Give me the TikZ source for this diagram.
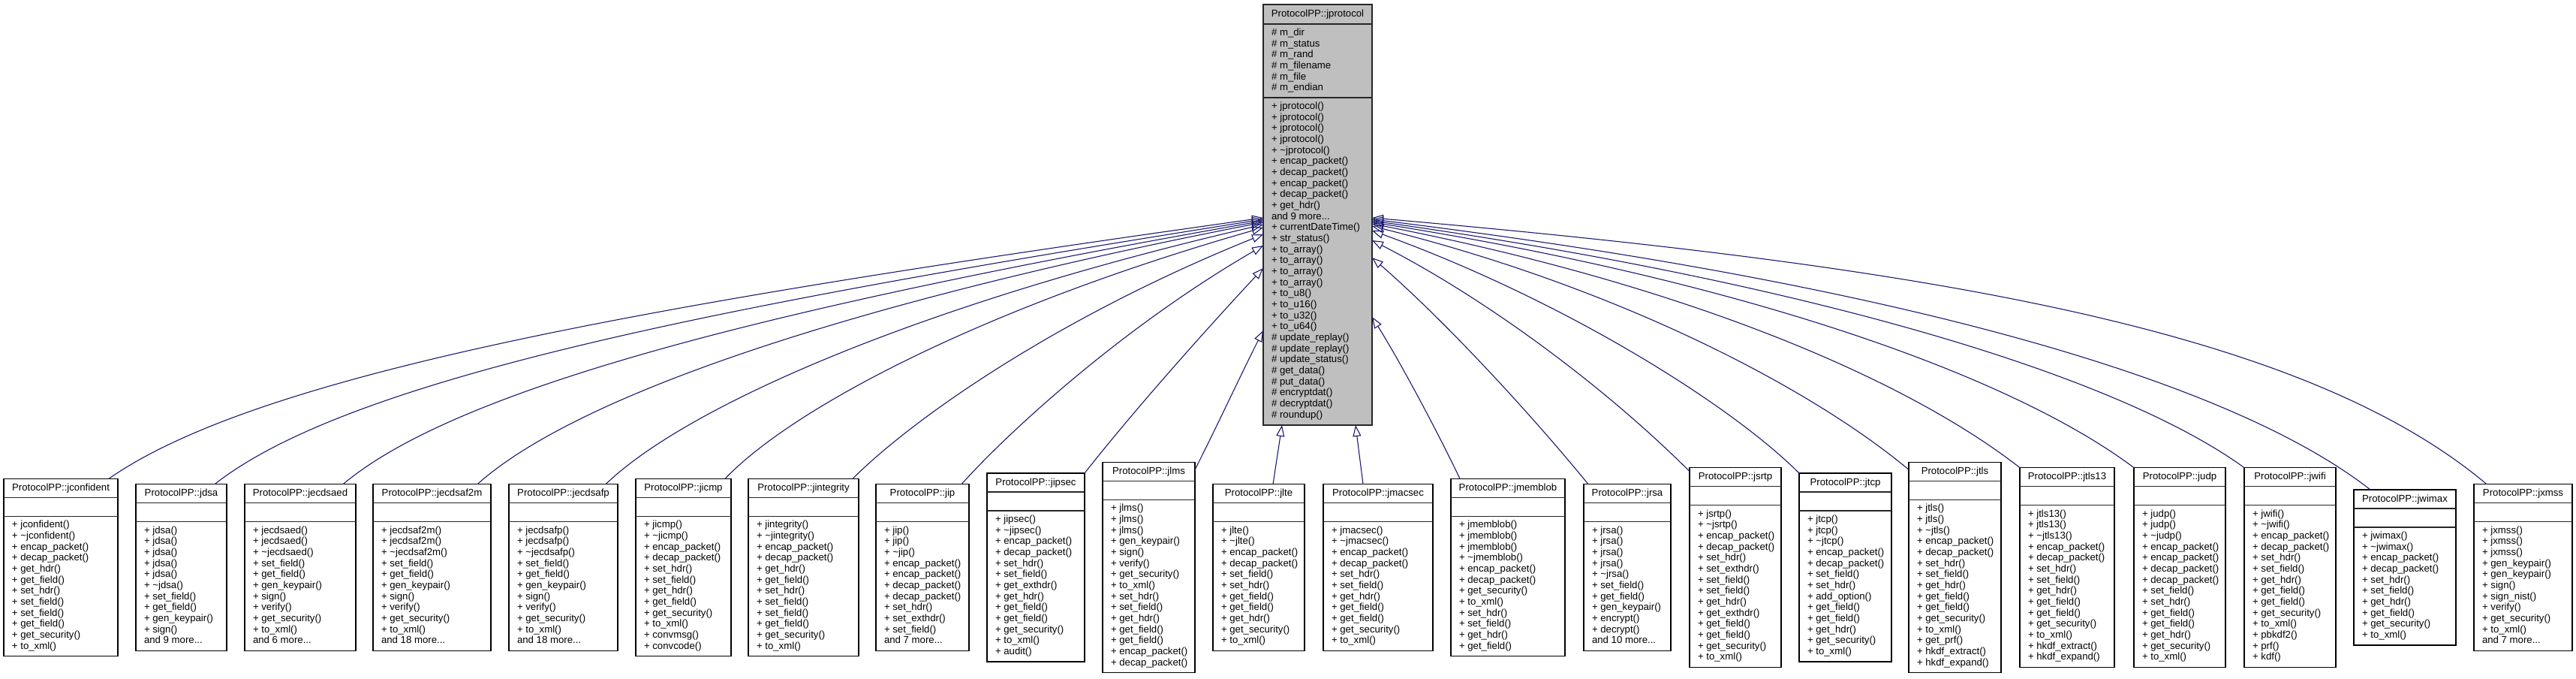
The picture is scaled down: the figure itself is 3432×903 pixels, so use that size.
\documentclass[tikz,border=0pt]{standalone}
\usepackage{fontspec}
\setmainfont{Liberation Sans}
\usetikzlibrary{arrows.meta,calc}
\definecolor{edgeblue}{HTML}{191970}
\definecolor{protogray}{HTML}{BFBFBF}
\newcommand{\tld}{\textasciitilde}
\newcommand{\mdots}{...}
\tikzset{
  childbox/.style={draw=black, line width=1.2pt, fill=white, inner sep=0pt, outer sep=0pt},
  protobox/.style={draw=black!85, line width=1.5pt, fill=protogray, inner sep=0pt, outer sep=0pt},
  sepline/.style={draw=black!85, line width=1.4pt},
  txt/.style={inner sep=0pt, outer sep=0pt, text=black, font=\fontsize{13.2pt}{14.67pt}\selectfont},
  inh/.style={draw=edgeblue, line width=1.1pt, -{Triangle[open,length=15pt,width=11pt]}}
}
\newcommand{\umlcls}[5]{%
  \pgfmathsetmacro{\boxh}{60.3+#4*14.67}%
  \node[childbox, minimum width=#3pt, minimum height=\boxh pt, anchor=west] (#1) at (#2,755.5) {};
  \draw[sepline] ($(#1.north west)+(0,25)$) -- ($(#1.north east)+(0,25)$);
  \draw[sepline] ($(#1.north west)+(0,50)$) -- ($(#1.north east)+(0,50)$);
  \node[txt, anchor=base] (#1-title) at ($(#1.north)+(0,16)$) {ProtocolPP::#1};
  \foreach \mtxt [count=\k] in {#5} {
    \node[txt, anchor=base west] (#1-m\k) at ($(#1.north west)+(11,{65.5+(\k-1)*14.67})$) {\mtxt};
  }
}
\newcommand{\inhedge}[4]{\draw[inh] #1 .. controls +#3 and +#4 .. #2;}
\begin{document}
\begin{tikzpicture}[x=1pt,y=-1pt]
\useasboundingbox (0,0) rectangle (3432,903);

% base class
\node[protobox, minimum width=145pt, minimum height=560pt, anchor=north west] (jprotocol) at (1683,6) {};
\draw[sepline] ($(jprotocol.north west)+(0,26)$) -- ($(jprotocol.north east)+(0,26)$);
\draw[sepline] ($(jprotocol.north west)+(0,124)$) -- ($(jprotocol.north east)+(0,124)$);
\node[txt, anchor=base] (jprotocol-title) at ($(jprotocol.north)+(0,16)$) {ProtocolPP::jprotocol};
\foreach \mtxt [count=\k] in {\# m\_dir, \# m\_status, \# m\_rand, \# m\_filename, \# m\_file, \# m\_endian} {
  \node[txt, anchor=base west] (jprotocol-a\k) at ($(jprotocol.north west)+(11,{41.5+(\k-1)*14.67})$) {\mtxt};
}
\foreach \mtxt [count=\k] in {+ jprotocol(), + jprotocol(), + jprotocol(), + jprotocol(), + \tld jprotocol(),
  + encap\_packet(), + decap\_packet(), + encap\_packet(), + decap\_packet(), + get\_hdr(), and 9 more\mdots,
  + currentDateTime(), + str\_status(), + to\_array(), + to\_array(), + to\_array(), + to\_array(),
  + to\_u8(), + to\_u16(), + to\_u32(), + to\_u64(), \# update\_replay(), \# update\_replay(),
  \# update\_status(), \# get\_data(), \# put\_data(), \# encryptdat(), \# decryptdat(), \# roundup()} {
  \node[txt, anchor=base west] (jprotocol-m\k) at ($(jprotocol.north west)+(11,{139.5+(\k-1)*14.67})$) {\mtxt};
}

% derived classes
\umlcls{jconfident}{5}{152}{12}{+ jconfident(), + \tld jconfident(), + encap\_packet(), + decap\_packet(), + get\_hdr(), + get\_field(), + set\_hdr(), + set\_field(), + set\_field(), + get\_field(), + get\_security(), + to\_xml()}
\umlcls{jdsa}{181}{121}{11}{+ jdsa(), + jdsa(), + jdsa(), + jdsa(), + jdsa(), + \tld jdsa(), + set\_field(), + get\_field(), + gen\_keypair(), + sign(), and 9 more\mdots}
\umlcls{jecdsaed}{326}{148}{11}{+ jecdsaed(), + jecdsaed(), + \tld jecdsaed(), + set\_field(), + get\_field(), + gen\_keypair(), + sign(), + verify(), + get\_security(), + to\_xml(), and 6 more\mdots}
\umlcls{jecdsaf2m}{497}{157}{11}{+ jecdsaf2m(), + jecdsaf2m(), + \tld jecdsaf2m(), + set\_field(), + get\_field(), + gen\_keypair(), + sign(), + verify(), + get\_security(), + to\_xml(), and 18 more\mdots}
\umlcls{jecdsafp}{678}{145}{11}{+ jecdsafp(), + jecdsafp(), + \tld jecdsafp(), + set\_field(), + get\_field(), + gen\_keypair(), + sign(), + verify(), + get\_security(), + to\_xml(), and 18 more\mdots}
\umlcls{jicmp}{847}{127}{12}{+ jicmp(), + \tld jicmp(), + encap\_packet(), + decap\_packet(), + set\_hdr(), + set\_field(), + get\_hdr(), + get\_field(), + get\_security(), + to\_xml(), + convmsg(), + convcode()}
\umlcls{jintegrity}{997}{147}{12}{+ jintegrity(), + \tld jintegrity(), + encap\_packet(), + decap\_packet(), + get\_hdr(), + get\_field(), + set\_hdr(), + set\_field(), + set\_field(), + get\_field(), + get\_security(), + to\_xml()}
\umlcls{jip}{1167}{124}{11}{+ jip(), + jip(), + \tld jip(), + encap\_packet(), + encap\_packet(), + decap\_packet(), + decap\_packet(), + set\_hdr(), + set\_exthdr(), + set\_field(), and 7 more\mdots}
\umlcls{jipsec}{1315}{130}{13}{+ jipsec(), + \tld jipsec(), + encap\_packet(), + decap\_packet(), + set\_hdr(), + set\_field(), + get\_exthdr(), + get\_hdr(), + get\_field(), + get\_field(), + get\_security(), + to\_xml(), + audit()}
\umlcls{jlms}{1469}{123}{15}{+ jlms(), + jlms(), + jlms(), + gen\_keypair(), + sign(), + verify(), + get\_security(), + to\_xml(), + set\_hdr(), + set\_field(), + get\_hdr(), + get\_field(), + get\_field(), + encap\_packet(), + decap\_packet()}
\umlcls{jlte}{1616}{122}{11}{+ jlte(), + \tld jlte(), + encap\_packet(), + decap\_packet(), + set\_field(), + set\_hdr(), + get\_field(), + get\_field(), + get\_hdr(), + get\_security(), + to\_xml()}
\umlcls{jmacsec}{1763}{146}{11}{+ jmacsec(), + \tld jmacsec(), + encap\_packet(), + decap\_packet(), + set\_hdr(), + set\_field(), + get\_hdr(), + get\_field(), + get\_field(), + get\_security(), + to\_xml()}
\umlcls{jmemblob}{1933}{152}{12}{+ jmemblob(), + jmemblob(), + jmemblob(), + \tld jmemblob(), + encap\_packet(), + decap\_packet(), + get\_security(), + to\_xml(), + set\_hdr(), + set\_field(), + get\_hdr(), + get\_field()}
\umlcls{jrsa}{2110}{116}{11}{+ jrsa(), + jrsa(), + jrsa(), + jrsa(), + \tld jrsa(), + set\_field(), + get\_field(), + gen\_keypair(), + encrypt(), + decrypt(), and 10 more\mdots}
\umlcls{jsrtp}{2251}{122}{14}{+ jsrtp(), + \tld jsrtp(), + encap\_packet(), + decap\_packet(), + set\_hdr(), + set\_exthdr(), + set\_field(), + set\_field(), + get\_hdr(), + get\_exthdr(), + get\_field(), + get\_field(), + get\_security(), + to\_xml()}
\umlcls{jtcp}{2397}{123}{13}{+ jtcp(), + jtcp(), + \tld jtcp(), + encap\_packet(), + decap\_packet(), + set\_field(), + set\_hdr(), + add\_option(), + get\_field(), + get\_field(), + get\_hdr(), + get\_security(), + to\_xml()}
\umlcls{jtls}{2543}{123}{15}{+ jtls(), + jtls(), + \tld jtls(), + encap\_packet(), + decap\_packet(), + set\_hdr(), + set\_field(), + get\_hdr(), + get\_field(), + get\_field(), + get\_security(), + to\_xml(), + get\_prf(), + hkdf\_extract(), + hkdf\_expand()}
\umlcls{jtls13}{2691}{126}{14}{+ jtls13(), + jtls13(), + \tld jtls13(), + encap\_packet(), + decap\_packet(), + set\_hdr(), + set\_field(), + get\_hdr(), + get\_field(), + get\_field(), + get\_security(), + to\_xml(), + hkdf\_extract(), + hkdf\_expand()}
\umlcls{judp}{2843}{122}{14}{+ judp(), + judp(), + \tld judp(), + encap\_packet(), + encap\_packet(), + decap\_packet(), + decap\_packet(), + set\_field(), + set\_hdr(), + get\_field(), + get\_field(), + get\_hdr(), + get\_security(), + to\_xml()}
\umlcls{jwifi}{2990}{122}{14}{+ jwifi(), + \tld jwifi(), + encap\_packet(), + decap\_packet(), + set\_hdr(), + set\_field(), + get\_hdr(), + get\_field(), + get\_field(), + get\_security(), + to\_xml(), + pbkdf2(), + prf(), + kdf()}
\umlcls{jwimax}{3136}{136}{10}{+ jwimax(), + \tld jwimax(), + encap\_packet(), + decap\_packet(), + set\_hdr(), + set\_field(), + get\_hdr(), + get\_field(), + get\_security(), + to\_xml()}
\umlcls{jxmss}{3296}{131}{11}{+ jxmss(), + jxmss(), + jxmss(), + gen\_keypair(), + gen\_keypair(), + sign(), + sign\_nist(), + verify(), + get\_security(), + to\_xml(), and 7 more\mdots}

% inheritance edges, left side
\inhedge{($(jconfident.north east)+(-12,0)$)}{($(jprotocol.north west)+(0,284)$)}{(205,-143)}{(-792,111)}
\inhedge{($(jdsa.north east)+(-16,0)$)}{($(jprotocol.north west)+(0,286)$)}{(181,-142)}{(-721,114)}
\inhedge{($(jecdsaed.north east)+(-17,0)$)}{($(jprotocol.north west)+(0,288)$)}{(157,-132)}{(-630,111)}
\inhedge{($(jecdsaf2m.north east)+(-18,0)$)}{($(jprotocol.north west)+(0,290)$)}{(134,-120)}{(-540,105)}
\inhedge{($(jecdsafp.north east)+(-16,0)$)}{($(jprotocol.north west)+(0,293)$)}{(108,-104)}{(-458,106)}
\inhedge{($(jicmp.north east)+(-8,0)$)}{($(jprotocol.north west)+(0,297)$)}{(90,-94)}{(-375,107)}
\inhedge{($(jintegrity.north east)+(-8,0)$)}{($(jprotocol.north west)+(0,306)$)}{(78,-78)}{(-278,112)}
\inhedge{($(jip.north east)+(-10,0)$)}{($(jprotocol.north west)+(0,321)$)}{(60,-67)}{(-190,110)}
\inhedge{(jipsec.north east)}{($(jprotocol.north west)+(0,351)$)}{(62,-79)}{(-82,88)}
\inhedge{($(jlms.north east)+(0,10)$)}{($(jprotocol.north west)+(0,434)$)}{(27,-53)}{(-27,53)}
% bottom
\draw[inh] ($(jlte.north)+(19,0)$) -- ($(jprotocol.south west)+(25,0)$);
\draw[inh] ($(jmacsec.north)+(-20,0)$) -- ($(jprotocol.south west)+(123,0)$);
% right side
\inhedge{($(jmemblob.north west)+(12,0)$)}{($(jprotocol.north east)+(0,416)$)}{(-30,-63)}{(37,59)}
\inhedge{($(jrsa.north west)+(6,0)$)}{($(jprotocol.north east)+(0,337)$)}{(-76,-93)}{(98,85)}
\inhedge{($(jsrtp.north west)+(0,5)$)}{($(jprotocol.north east)+(0,314)$)}{(-106,-106)}{(160,82)}
\inhedge{(jtcp.north west)}{($(jprotocol.north east)+(0,301)$)}{(-92,-92)}{(254,92)}
\inhedge{($(jtls.north west)+(0,10)$)}{($(jprotocol.north east)+(0,295)$)}{(-123,-103)}{(340,85)}
\inhedge{(jtls13.north west)}{($(jprotocol.north east)+(0,292)$)}{(-150,-117)}{(422,82)}
\inhedge{(judp.north west)}{($(jprotocol.north east)+(0,290)$)}{(-164,-123)}{(494,78)}
\inhedge{(jwifi.north west)}{($(jprotocol.north east)+(0,288)$)}{(-178,-129)}{(555,78)}
\inhedge{($(jwimax.north west)+(22,0)$)}{($(jprotocol.north east)+(0,286)$)}{(-205,-160)}{(635,78)}
\inhedge{($(jxmss.north west)+(17,0)$)}{($(jprotocol.north east)+(0,284)$)}{(-245,-206)}{(747,65)}
\end{tikzpicture}
\end{document}
